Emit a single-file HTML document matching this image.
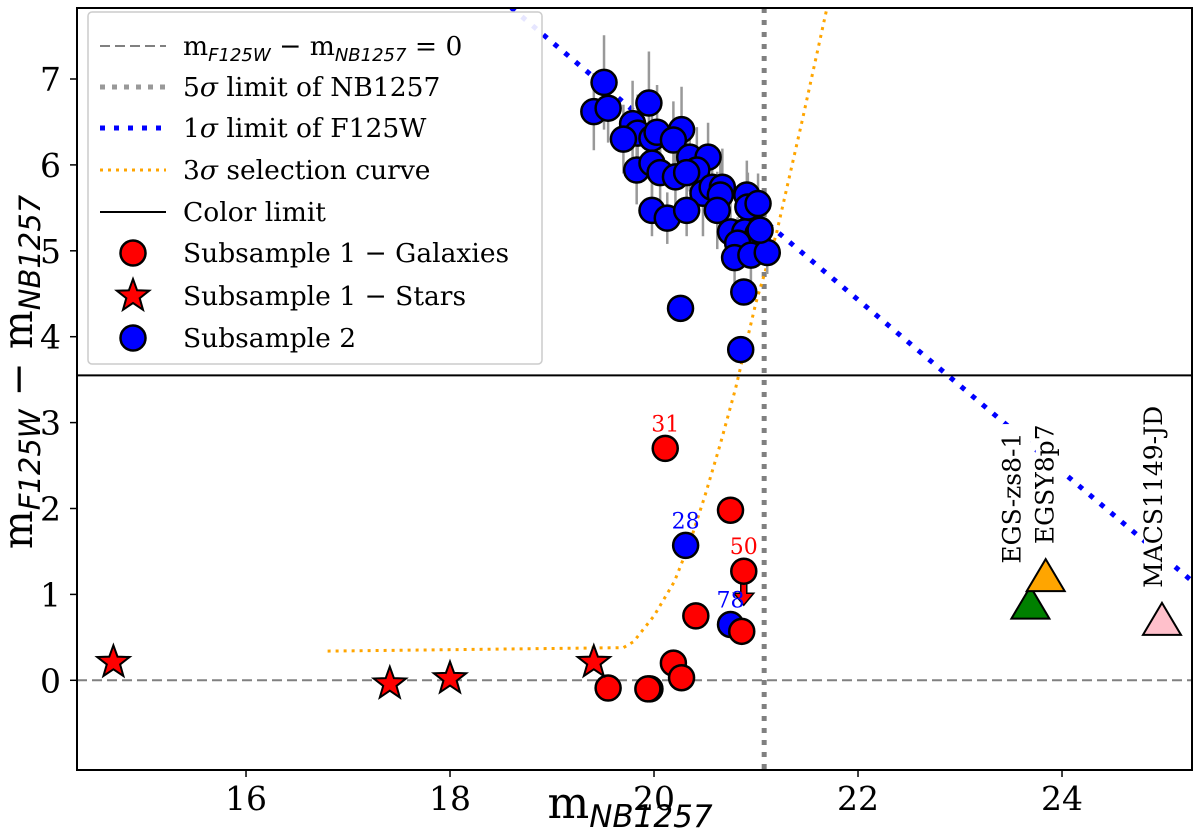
<!DOCTYPE html>
<html><head><meta charset="utf-8"><style>
html,body{margin:0;padding:0;background:#fff;}
svg{display:block;font-family:"DejaVu Serif","Liberation Serif",serif;}
</style></head><body>
<svg id="chart" width="1200" height="830" viewBox="0 0 1200 830" xmlns="http://www.w3.org/2000/svg"></svg>
<script>
const xTicks=[16,18,20,22,24];
const yTicks=[0,1,2,3,4,5,6,7];
const blueX=[19.51,19.41,19.55,19.95,19.79,19.84,19.70,19.98,20.03,20.27,20.19,19.83,19.98,20.06,20.21,20.35,20.53,20.42,20.32,20.48,20.57,20.67,20.65,20.62,20.91,20.92,21.02,19.98,20.13,20.32,20.75,20.89,21.02,20.82,20.79,20.95,21.11,20.88,20.26,20.85,21.04];
const blueY=[6.96,6.62,6.66,6.72,6.48,6.37,6.30,6.31,6.38,6.41,6.29,5.94,6.02,5.91,5.86,6.09,6.09,5.94,5.91,5.67,5.74,5.74,5.65,5.47,5.65,5.51,5.55,5.47,5.38,5.47,5.22,5.22,5.20,5.09,4.92,4.95,4.98,4.52,4.33,3.85,5.24];
const blueErr=[0.55,0.45,0.4,0.6,0.5,0.45,0.4,0.5,0.55,0.5,0.45,0.4,0.45,0.5,0.45,0.4,0.4,0.5,0.45,0.5,0.4,0.45,0.5,0.45,0.4,0.4,0.35,0.3,0.3,0.3,0.35,0.35,0.3,0.3,0.3,0.3,0.25,0.15,0.1,0.1,0.3];
const galX=[20.11,20.75,20.88,20.41,20.86,20.19,20.27,19.55,19.96,19.94];
const galY=[2.70,1.98,1.27,0.75,0.57,0.20,0.03,-0.09,-0.10,-0.10];
const starX=[14.70,17.41,18.00,19.41];
const starY=[0.21,-0.04,0.02,0.21];
const s2X=[20.31,20.75];
const s2Y=[1.57,0.65];
const labelNames=["31","28","50","78"];
const labelX=[20.11,20.31,20.88,20.75];
const labelY=[2.70,1.57,1.27,0.65];
const labelColor=["red","blue","red","blue"];
const selX=[16.8,19.7,19.8,20.0,20.2,20.35,20.5,20.65,20.8,21.0,21.2,21.45,21.7];
const selY=[0.34,0.38,0.45,0.75,1.15,1.6,2.15,2.75,3.4,4.4,5.2,6.5,7.85];
const limX=[18.6,25.3];
const limY=[7.83,1.13];
const nbLimit=21.08;
const colorLimit=3.55;
const refNames=["EGS-zs8-1","EGSY8p7","MACS1149-JD"];
const refX=[23.69,23.84,24.98];
const refY=[0.87,1.19,0.68];
const refColor=["green","orange","pink"];

const L=77,R=1192,T=8,B=770;
const xmin=14.343,ymax=7+71/85.9;
const sx=v=>L+(v-xmin)*102, sy=v=>T+(ymax-v)*85.9;
const NS="http://www.w3.org/2000/svg";
const svg=document.getElementById('chart');
function el(tag,attrs,parent){const e=document.createElementNS(NS,tag);for(const k in attrs)e.setAttribute(k,attrs[k]);(parent||svg).appendChild(e);return e;}
const defs=el('defs',{});
const cp=el('clipPath',{id:'clip'},defs);el('rect',{x:L,y:T,width:R-L,height:B-T},cp);
const g=el('g',{'clip-path':'url(#clip)'});



let e;
e=el('line',{x1:L,x2:R,y1:sy(0),y2:sy(0),stroke:'#808080','stroke-width':2,'stroke-dasharray':'10,5'},g);

e=el('line',{x1:sx(nbLimit),x2:sx(nbLimit),y1:T,y2:B,stroke:'#808080','stroke-width':5,'stroke-dasharray':'5,7'},g);

e=el('line',{x1:sx(limX[0]),y1:sy(limY[0]),x2:sx(limX[1]),y2:sy(limY[1]),stroke:'blue','stroke-width':5,'stroke-dasharray':'5,9'},g);

e=el('polyline',{points:selX.map((v,i)=>sx(v)+','+sy(selY[i])).join(' '),fill:'none',stroke:'orange','stroke-width':3,'stroke-dasharray':'3,5'},g);

e=el('line',{x1:L,x2:R,y1:sy(colorLimit),y2:sy(colorLimit),stroke:'black','stroke-width':2},g);


blueX.forEach((v,i)=>{
 const l=el('line',{x1:sx(v),x2:sx(v),y1:sy(blueY[i]+blueErr[i]),y2:sy(blueY[i]-blueErr[i]),stroke:'#999','stroke-width':2.5},g);
 
});
blueX.forEach((v,i)=>{
 const c=el('circle',{cx:sx(v),cy:sy(blueY[i]),r:12.5,fill:'blue',stroke:'black','stroke-width':2.5},g);
 
});
s2X.forEach((v,i)=>{
 const c=el('circle',{cx:sx(v),cy:sy(s2Y[i]),r:12.5,fill:'blue',stroke:'black','stroke-width':2.5},g);
 
});
e=el('path',{d:`M${sx(galX[2])-3},${sy(galY[2])} v22 h-7 l10,12 l10,-12 h-7 v-22 z`,fill:'red',stroke:'black','stroke-width':1.5},g);

galX.forEach((v,i)=>{
 const c=el('circle',{cx:sx(v),cy:sy(galY[i]),r:12.5,fill:'red',stroke:'black','stroke-width':2.5},g);
 
});
function starPath(cx,cy,ro,ri){let p='';for(let k=0;k<10;k++){const r=k%2?ri:ro;const a=-Math.PI/2+k*Math.PI/5;p+=(k?'L':'M')+(cx+r*Math.cos(a)).toFixed(1)+','+(cy+r*Math.sin(a)).toFixed(1);}return p+'Z';}
starX.forEach((v,i)=>{
 const s=el('path',{d:starPath(sx(v),sy(starY[i]),17,7),fill:'red',stroke:'black','stroke-width':2},g);
 
});
labelNames.forEach((n,i)=>{
 const t=el('text',{x:sx(labelX[i]),y:sy(labelY[i])-17,'font-size':22,fill:labelColor[i],'text-anchor':'middle'},g);
 t.textContent=n;
});
const labOff=[[-10,-42],[8,-34],[0,-34]];
refX.forEach((v,i)=>{
 const cx=sx(v),cy=sy(refY[i]);
 const tr=el('path',{d:`M${cx},${cy-19} L${cx+19},${cy+13} L${cx-19},${cy+13} Z`,fill:refColor[i],stroke:'black','stroke-width':2},g);
 
 const tx=cx+labOff[i][0],ty=cy+labOff[i][1];
 const len=refNames[i].length*15.5;
 const bg=el('rect',{x:tx-18,y:ty-len,width:28,height:len,fill:'white'},g);
 
 const t=el('text',{x:tx,y:ty,'font-size':25,transform:`rotate(-90 ${tx} ${ty})`},g);
 t.textContent=refNames[i];
});

const lg=el('g',{});

el('rect',{x:88,y:12,width:454,height:352,rx:4,fill:'white','fill-opacity':0.9,stroke:'#ccc','stroke-width':1.5},lg);
const legY=[46,87,128,170,212,253,296,338];
const sub='font-family="DejaVu Sans" font-style="italic"';
const legText=[`m<tspan font-size="18" dy="6" ${sub}>F125W</tspan><tspan dy="-6"> − m</tspan><tspan font-size="18" dy="6" ${sub}>NB1257</tspan><tspan dy="-6"> = 0</tspan>`,'5<tspan font-style="italic">σ</tspan> limit of NB1257','1<tspan font-style="italic">σ</tspan> limit of F125W','3<tspan font-style="italic">σ</tspan> selection curve','Color limit','Subsample 1 − Galaxies','Subsample 1 − Stars','Subsample 2'];
const h=[
 y=>el('line',{x1:100,x2:166,y1:y,y2:y,stroke:'#808080','stroke-width':2,'stroke-dasharray':'10,5'},lg),
 y=>el('line',{x1:100,x2:166,y1:y,y2:y,stroke:'#999','stroke-width':5,'stroke-dasharray':'5,7'},lg),
 y=>el('line',{x1:100,x2:166,y1:y,y2:y,stroke:'blue','stroke-width':5,'stroke-dasharray':'5,9'},lg),
 y=>el('line',{x1:100,x2:166,y1:y,y2:y,stroke:'orange','stroke-width':3,'stroke-dasharray':'3,5'},lg),
 y=>el('line',{x1:100,x2:166,y1:y,y2:y,stroke:'black','stroke-width':2},lg),
 y=>el('circle',{cx:133,cy:y,r:12.5,fill:'red',stroke:'black','stroke-width':2.5},lg),
 y=>el('path',{d:starPath(133,y,17,7),fill:'red',stroke:'black','stroke-width':2},lg),
 y=>el('circle',{cx:133,cy:y,r:12.5,fill:'blue',stroke:'black','stroke-width':2.5},lg)];
legY.forEach((y,i)=>{
 const m=h[i](y);
 const t=el('text',{x:183,y:y+9,'font-size':26.5},lg);t.innerHTML=legText[i];
 
});

e=el('rect',{x:L,y:T,width:R-L,height:B-T,fill:'none',stroke:'black','stroke-width':2});

xTicks.forEach(v=>{
 el('line',{x1:sx(v),x2:sx(v),y1:B,y2:B+7,stroke:'black','stroke-width':1.5});
 const t=el('text',{x:sx(v),y:B+40,'font-size':33,'text-anchor':'middle'});t.textContent=v;
 
});
yTicks.forEach(v=>{
 el('line',{x1:L-7,x2:L,y1:sy(v),y2:sy(v),stroke:'black','stroke-width':1.5});
 const t=el('text',{x:L-16,y:sy(v)+12,'font-size':33,'text-anchor':'end'});t.textContent=v;
 
});
e=el('text',{x:630,y:818,'font-size':44,'text-anchor':'middle'});
e.innerHTML=`m<tspan font-size="31" dy="9" ${sub}>NB1257</tspan>`;

e=el('text',{x:32,y:372,'font-size':41,'text-anchor':'middle',transform:'rotate(-90 32 372)'});
e.innerHTML=`m<tspan font-size="29" dy="8" ${sub}>F125W</tspan><tspan dy="-8"> − m</tspan><tspan font-size="29" dy="8" ${sub}>NB1257</tspan>`;

</script>
</body></html>
